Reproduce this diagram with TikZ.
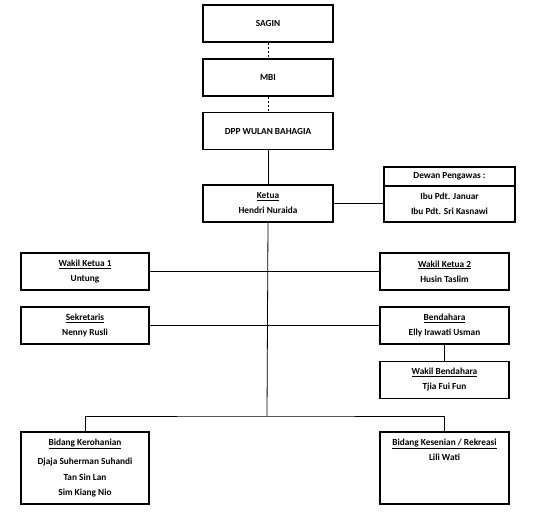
\documentclass[tikz,border=0pt]{standalone}
\usepackage{fontspec}
\setmainfont{Carlito}
\begin{document}
\begin{tikzpicture}[x=1pt,y=-1pt,
  box/.style={draw=black,line width=1.7pt,minimum width=#1,minimum height=37pt,inner sep=0pt,align=center,
    font=\bfseries\fontsize{9.3}{15}\selectfont},
  box/.default=130pt,
  conn/.style={draw=black,line width=0.8pt},
  dconn/.style={draw=black,line width=0.8pt,dash pattern=on 2.5pt off 1.5pt}]
\useasboundingbox (0,0) rectangle (539,513);
\node[box] (sagin) at (268,23.5) {SAGIN};
\node[box] (mbi) at (268,77.5) {MBI};
\node[box] (dpp) at (268,131) {DPP WULAN BAHAGIA};
\node[box] (ketua) at (268,203.5) {\underline{Ketua}\\Hendri Nuraida};
\node[box=131pt,minimum height=19pt] (dewant) at (449.5,176.5) {Dewan Pengawas :};
\node[box=131pt,minimum height=36pt] (dewanb) at (449.5,204) {Ibu Pdt. Januar\\Ibu Pdt. Sri Kasnawi};
\node[box=128pt] (wk1) at (85,271.5) {\underline{Wakil Ketua 1}\\Untung};
\node[box=129pt] (wk2) at (444.5,271.5) {\underline{Wakil Ketua 2}\\Husin Taslim};
\node[box=128pt] (sek) at (85,325.5) {\underline{Sekretaris}\\Nenny Rusli};
\node[box=129pt] (bend) at (444.5,325.5) {\underline{Bendahara}\\Elly Irawati Usman};
\node[box=129pt] (wbend) at (444.5,380) {\underline{Wakil Bendahara}\\Tjia Fui Fun};
\node[box=128pt,minimum height=72pt] (bk) at (85,468)
  {\parbox[c][66pt][t]{124pt}{\centering\vspace*{4pt}\underline{Bidang Kerohanian}\\[4pt]Djaja Suherman Suhandi\\[0.5pt]Tan Sin Lan\\[0.5pt]Sim Kiang Nio}};
\node[box=129pt,minimum height=72pt] (bks) at (444.5,468)
  {\parbox[c][66pt][t]{125pt}{\centering\vspace*{4pt}\underline{Bidang Kesenian / Rekreasi}\\Lili Wati}};
\coordinate (j) at (267,416);
\draw[dconn] (sagin) -- (mbi);
\draw[dconn] (mbi) -- (dpp);
\draw[conn] (dpp) -- (ketua);
\draw[conn] (ketua.east) -- (ketua.east -| dewanb.west);
\draw[conn] (ketua.south) -- (j);
\draw[conn] (wk1.east) -- (wk2.west);
\draw[conn] (sek.east) -- (bend.west);
\draw[conn] (bend.south) -- (wbend.north);
\draw[conn] (bk.north) |- (j) -| (bks.north);
\end{tikzpicture}
\end{document}
